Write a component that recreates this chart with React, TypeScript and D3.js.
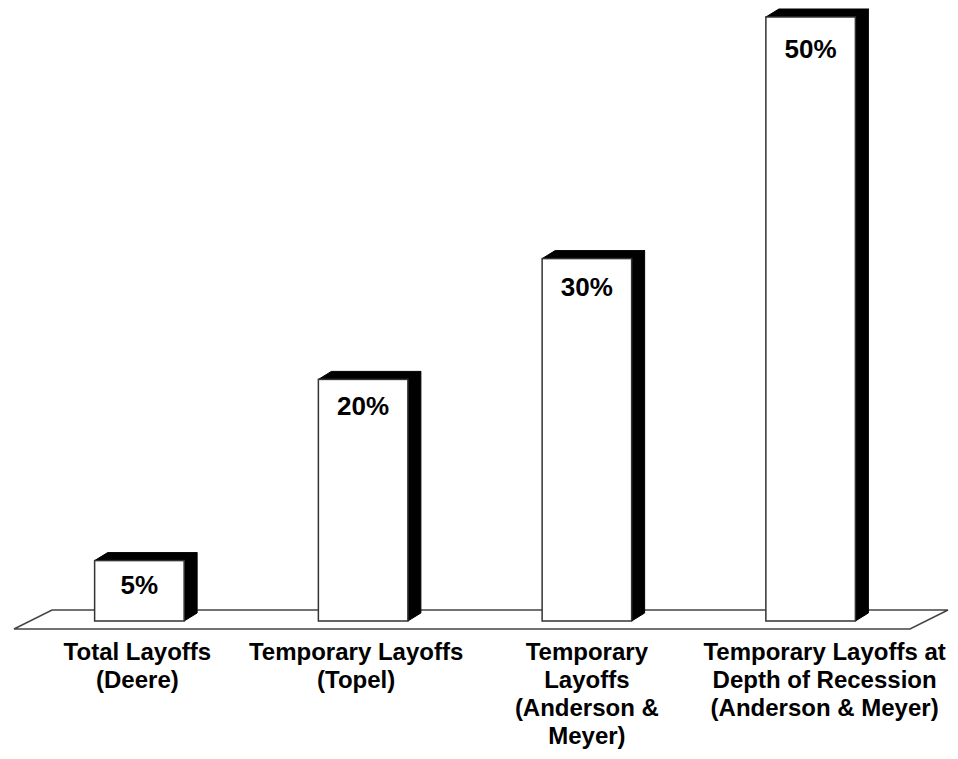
import React from "react";
import * as d3 from "d3";

// Share of layoffs by study
const categories: string[][] = [
  ["Total Layoffs", "(Deere)"],
  ["Temporary Layoffs", "(Topel)"],
  ["Temporary", "Layoffs", "(Anderson &", "Meyer)"],
  ["Temporary Layoffs at", "Depth of Recession", "(Anderson & Meyer)"],
];
const values: number[] = [5, 20, 30, 50];
const valueLabels: string[] = ["5%", "20%", "30%", "50%"];

const W = 958;
const H = 759;
const FONT = "'Liberation Sans', Arial, Helvetica, sans-serif";

// 3D depth offsets for bars and floor
const DX = 13;
const DY = -8;
// horizontal nudges of the category text blocks
const labelShift = [-2, -7, 0, 14];

export default function App() {
  const keys = categories.map((_, i) => String(i));
  const x = d3
    .scaleBand<string>()
    .domain(keys)
    .range([27.5, 922.5])
    .paddingInner(0.6)
    .paddingOuter(0.3);
  const y = d3.scaleLinear().domain([0, 50]).range([621, 17]);
  const bw = x.bandwidth();
  const base = y(0);

  // floor parallelogram
  const floorFront = 629;
  const floorBack = 610;
  const floor = [
    [14, floorFront],
    [910, floorFront],
    [948, floorBack],
    [52, floorBack],
  ];

  return (
    <svg
      width={W}
      height={H}
      style={{ position: "absolute", left: 0, top: 0, background: "#fff" }}
    >
      <polygon
        points={floor.map((p) => p.join(",")).join(" ")}
        fill="#fff"
        stroke="#444"
        strokeWidth={1.5}
      />
      {values.map((v, i) => {
        const x0 = x(String(i))!;
        const x1 = x0 + bw;
        const yt = y(v);
        const top = [
          [x0, yt],
          [x1, yt],
          [x1 + DX, yt + DY],
          [x0 + DX, yt + DY],
        ];
        const side = [
          [x1, yt],
          [x1 + DX, yt + DY],
          [x1 + DX, base + DY],
          [x1, base],
        ];
        return (
          <g key={i}>
            <polygon points={top.map((p) => p.join(",")).join(" ")} fill="#000" stroke="#000" strokeWidth={1} />
            <polygon points={side.map((p) => p.join(",")).join(" ")} fill="#000" stroke="#000" strokeWidth={1} />
            <rect
              x={x0}
              y={yt}
              width={bw}
              height={base - yt}
              fill="#fff"
              stroke="#333"
              strokeWidth={1.5}
            />
            <text
              x={x0 + bw / 2}
              y={yt + 32 + (base - yt) * 0.015}
              textAnchor="middle"
              fontFamily={FONT}
              fontWeight="bold"
              fontSize={26}
              fill="#000"
            >
              {valueLabels[i]}
            </text>
          </g>
        );
      })}
      {categories.map((lines, i) => (
        <text
          key={i}
          textAnchor="middle"
          fontFamily={FONT}
          fontWeight="bold"
          fontSize={24}
          fill="#000"
        >
          {lines.map((ln, j) => (
            <tspan key={j} x={x(String(i))! + bw / 2 + labelShift[i]} y={660 + j * 28}>
              {ln}
            </tspan>
          ))}
        </text>
      ))}
    </svg>
  );
}
